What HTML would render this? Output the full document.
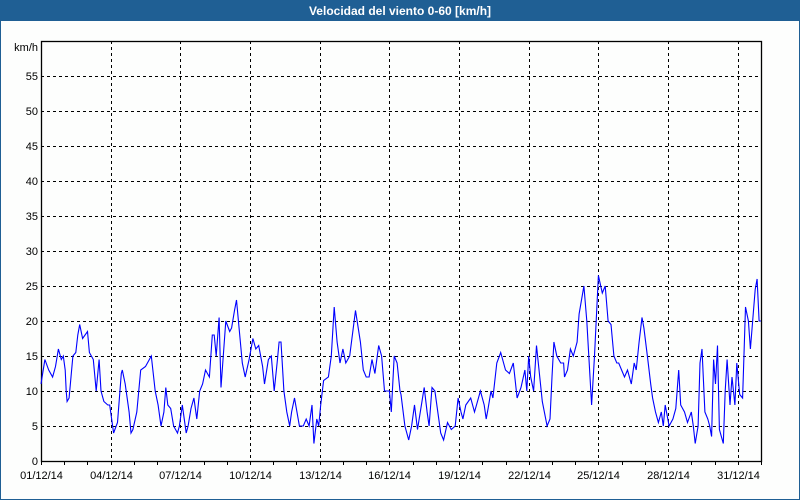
<!DOCTYPE html>
<html><head><meta charset="utf-8"><style>
body{margin:0;background:#fff;}
#wrap{position:relative;width:798px;height:498px;border:1px solid #1f5f94;background:#fdfefd;overflow:hidden;}
#title{position:absolute;left:0;top:0;width:798px;height:20px;background:#1f5f94;color:#fff;font:bold 12px "Liberation Sans",sans-serif;text-align:center;line-height:20px;}
svg{position:absolute;left:0;top:0;}
text{font-family:"Liberation Sans",sans-serif;font-size:11px;fill:#000;}
</style></head><body>
<div id="wrap">
<div id="title">Velocidad del viento 0-60 [km/h]</div>
<svg id="chart" width="798" height="498"></svg>
</div>
<script>
const yTicks=[0,5,10,15,20,25,30,35,40,45,50,55];
const xTickDays=[0,3,6,9,12,15,18,21,24,27,30];
const xTickLabels=["01/12/14","04/12/14","07/12/14","10/12/14","13/12/14","16/12/14","19/12/14","22/12/14","25/12/14","28/12/14","31/12/14"];
const hours=[0,4,8,12,15,18,21,23,25,26,27,29,31,33,36,38,40,43,48,50,54,57,60,62,65,69,71,75,79,83,84,87,91,93,95,99,103,108,114,118,121,124,127,129,131,134,137,141,143,146,150,152,155,158,161,164,167,170,174,177,179,181,184,186,191,195,197,200,202,205,208,211,215,219,222,225,229,231,235,238,241,244,246,248,251,254,257,259,262,267,271,274,277,280,282,285,287,289,292,297,300,303,306,309,312,315,319,325,330,333,336,339,342,345,349,352,355,360,362,365,368,371,372,376,380,383,386,389,396,399,401,404,407,410,413,416,420,424,428,431,434,436,439,444,448,450,454,458,460,462,465,467,471,475,480,484,488,492,496,500,502,504,506,509,512,518,523,526,528,530,533,537,540,541,544,547,550,554,556,561,564,569,572,576,580,583,586,589,592,595,597,600,603,606,610,613,615,618,621,623,627,630,632,635,638,641,643,645,649,653,656,659,661,665,668,672,674,676,679,681,683,686,689,691,693,695,697,699,701,705,707,709,712,714,717,719,722,725,728,731,733,738,740,742,744];
const speeds=[11,14.5,13,12,13.5,16,14.5,15,13,10,8.5,9,12,15,15.5,18,19.5,17.5,18.5,15.5,14.5,10,14.5,10,8.5,8,8,4,5.5,12.5,13,11,7,4,4.5,7,13,13.5,15,10,8,5,7,10.5,8,7.5,5,4,5,8,4,5,7.5,9,6,10,11,13,12,18,18,15,20.5,10.5,20,18.5,19,21.5,23,18.5,14,12,14.5,17.5,16,16.5,13.5,11,14.5,15,10,14,17,17,10,7,5,7,9,5,5,6,5,8,2.5,6,5,8,11.5,12,15,22,17,14,16,14,15,21.5,17,13,12,12,14.5,12.5,16.5,15,10,10,7,15,14,10,9.5,5,3,5,8,4.5,10.5,7,5,10.5,10,7,4,3,5.5,4.5,5,9,7,6,8,9,7,8,10,8,6,7.5,10,9,14,15.5,13,12.5,14,9,10.5,13,10,15,12,10,16.5,8.5,5,6,12,17,15,14,14,12,13,16,15,17,21,25,20,8,15,26.5,24,25,20,19.5,15,14,14,13,12,13,11,14,13,17,20.5,19,14.5,11,9,7,5.5,7,5,8,5,6,7.5,13,8,7,5.5,7,5,2.5,5,14,16,7,6,5,3.5,14.5,11,16.5,4.5,2.5,10,14.5,8,12,8,14,9.5,9,22,20,16,24.5,26,20,20];
const L=40,R=760,T=40,B=460,TOTAL_H=744,YMAX=60;
function xs(h){return L+h/TOTAL_H*(R-L);}
function ys(v){return B-v/YMAX*(B-T);}
const svg=document.getElementById('chart');
const NS='http://www.w3.org/2000/svg';
function mk(tag,attrs){const e=document.createElementNS(NS,tag);for(const k in attrs)e.setAttribute(k,attrs[k]);svg.appendChild(e);return e;}
yTicks.forEach(v=>{
  if(v>0){const g=mk('line',{x1:L,x2:R,y1:ys(v)+0.5,y2:ys(v)+0.5,stroke:'#000','stroke-dasharray':'3,3','stroke-width':1});
  
  }
  const t=mk('text',{x:L-3,y:ys(v)+4,'text-anchor':'end'});t.textContent=v;
  
  
});
const unit=mk('text',{x:L-3,y:T+10,'text-anchor':'end'});unit.textContent='km/h';


xTickDays.forEach((d,i)=>{
  const x=Math.round(xs(d*24))+0.5;
  if(d>0){const g=mk('line',{x1:x,x2:x,y1:T,y2:B,stroke:'#000','stroke-dasharray':'3,3','stroke-width':1});
  
  }
  const t=mk('text',{x:x,y:B+18,'text-anchor':'middle'});t.textContent=xTickLabels[i];
  
  
});
for(let d=0;d<=31;d++){const x=Math.round(xs(d*24))+0.5;const tk=mk('line',{x1:x,x2:x,y1:B,y2:B+4,stroke:'#000'});
  
  }
const fr=mk('rect',{x:L+0.5,y:T+0.5,width:R-L,height:B-T,fill:'none',stroke:'#000','stroke-width':1.3});


const pts=hours.map((h,i)=>xs(h).toFixed(1)+','+ys(speeds[i]).toFixed(1)).join(' ');
const pl=mk('polyline',{points:pts,fill:'none',stroke:'#0000ff','stroke-width':1.1});


</script>
</body></html>
